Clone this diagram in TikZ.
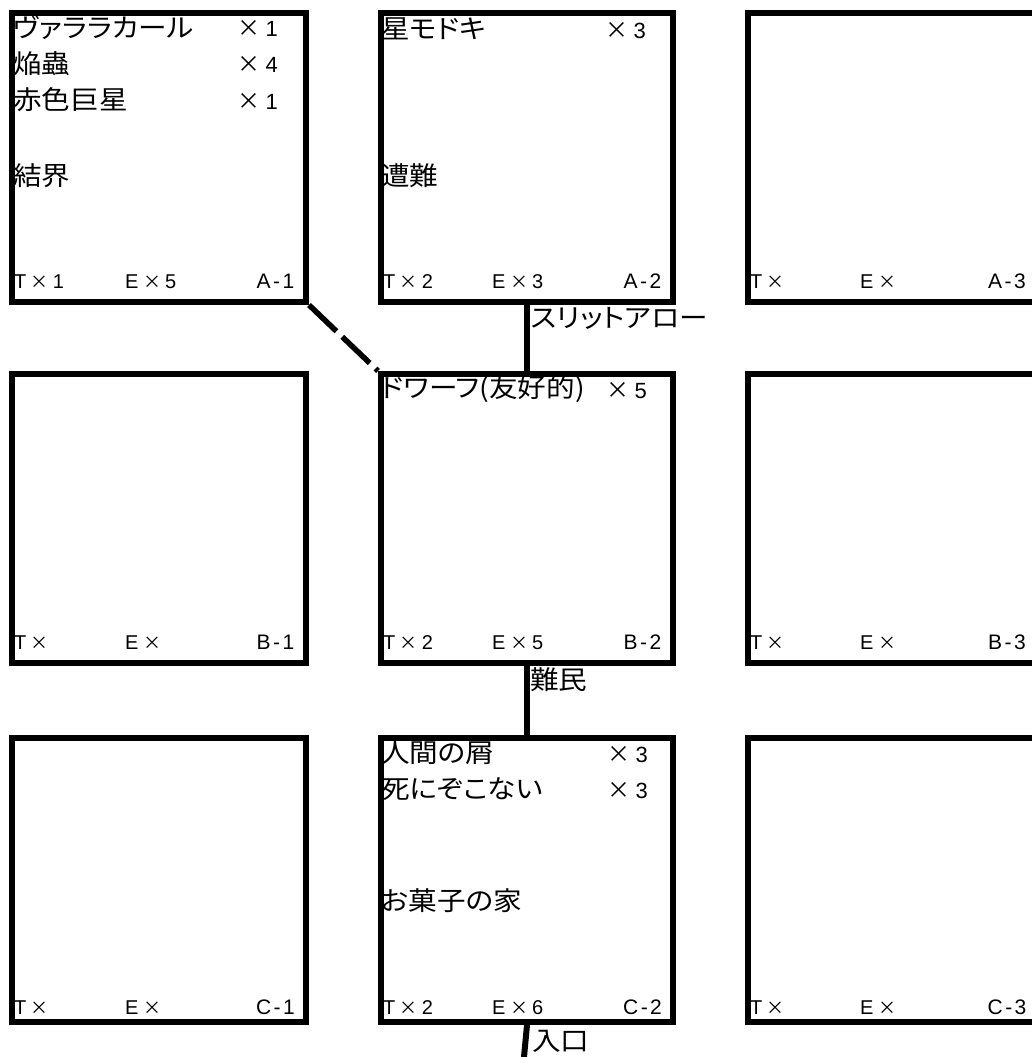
\documentclass[tikz,border=0pt]{standalone}
\usepackage{fontspec}
\newfontfamily\jp[FakeStretch=1.1,RawFeature=+palt]{Noto Sans CJK JP}
\newfontfamily\jpx{Noto Sans CJK JP}
\newfontfamily\lat{Liberation Sans}
\newcommand\mulN[1]{{\jpx\fontsize{23}{23}\selectfont ×}\hspace{5.5pt}{\lat\fontsize{22}{22}\selectfont #1}}
\newcommand\botT[1]{T\hspace{4.5pt}{\jpx\fontsize{18}{18}\selectfont ×}\hspace{4pt}#1}
\newcommand\botE[1]{E\hspace{4.5pt}{\jpx\fontsize{18}{18}\selectfont ×}\hspace{4pt}#1}
\newcommand\rc[2]{#1\kern2.5pt-\kern2.5pt#2}
\begin{document}
\begin{tikzpicture}[x=1pt,y=-1pt,
  room/.style={draw=black,line width=6pt,rectangle,anchor=north west,inner sep=0pt},
  big/.style={font=\jp\fontsize{26}{30}\selectfont,anchor=west,inner sep=0pt},
  mul/.style={anchor=base west,inner sep=0pt},
  small/.style={font=\lat\fontsize{20}{20}\selectfont,anchor=base west,inner sep=0pt},
  code/.style={font=\lat\fontsize{21}{21}\selectfont,anchor=base,inner sep=0pt},
  conn/.style={line width=6pt},
  dconn/.style={line width=5.5pt,dash pattern=on 38pt off 8pt}]
\clip (0,0) rectangle (1032,1057);
\fill[white] (0,0) rectangle (1032,1057);
% rooms
\node[room,minimum width=294pt,minimum height=289pt] (A1) at (9,10) {};
\node[room,minimum width=292pt,minimum height=289pt] (A2) at (378,10) {};
\node[room,minimum width=294pt,minimum height=289pt] (A3) at (745,10) {};
\node[room,minimum width=294pt,minimum height=289pt] (B1) at (9,371) {};
\node[room,minimum width=292pt,minimum height=289pt] (B2) at (378,371) {};
\node[room,minimum width=294pt,minimum height=289pt] (B3) at (745,371) {};
\node[room,minimum width=294pt,minimum height=284pt] (C1) at (9,735) {};
\node[room,minimum width=292pt,minimum height=284pt] (C2) at (378,735) {};
\node[room,minimum width=294pt,minimum height=284pt] (C3) at (745,735) {};
% connectors
\draw[conn] (A2.south) -- (B2.north);
\draw[conn] (B2.south) -- (C2.north);
\coordinate (entr) at (524,1057);
\draw[conn] (C2.south) -- (entr);
\draw[dconn] (A1.south east) -- (B2.north west);
% connector labels
\node[big] (lslit) at (531,318) {スリットアロー};
\node[big] (lnan) at (530,680) {難民};
\node[big] (lent) at (532,1041) {入口};
% A-1  (baselines: line centre + 8)
\node[big] (a1n1) at (13,28) {ヴァララカール};
\node[mul] (a1m1) at (237,37) {\mulN{1}};
\node[big] (a1n2) at (13,64) {焔蟲};
\node[mul] (a1m2) at (237,73) {\mulN{4}};
\node[big] (a1n3) at (13,100) {赤色巨星};
\node[mul] (a1m3) at (237,109) {\mulN{1}};
\node[big] (a1n4) at (13,176) {結界};
\node[small] (a1t) at (14,288) {\botT{1}};
\node[small] (a1e) at (125,288) {\botE{5}};
\node[code] (a1c) at (275.5,288) {\rc{A}{1}};
% A-2
\node[big] (a2n1) at (381,29) {星モドキ};
\node[mul] (a2m1) at (605,38) {\mulN{3}};
\node[big] (a2n4) at (381,176) {遭難};
\node[small] (a2t) at (383,288) {\botT{2}};
\node[small] (a2e) at (492,288) {\botE{3}};
\node[code] (a2c) at (642.5,288) {\rc{A}{2}};
% A-3
\node[small] (a3t) at (750,288) {\botT{}};
\node[small] (a3e) at (860,288) {\botE{}};
\node[code] (a3c) at (1007,288) {\rc{A}{3}};
% B-1
\node[small] (b1t) at (14,649) {\botT{}};
\node[small] (b1e) at (125,649) {\botE{}};
\node[code] (b1c) at (275.5,649) {\rc{B}{1}};
% B-2
\node[big] (b2n1) at (381,389) {ドワーフ(友好的)};
\node[mul] (b2m1) at (606,398) {\mulN{5}};
\node[small] (b2t) at (383,649) {\botT{2}};
\node[small] (b2e) at (492,649) {\botE{5}};
\node[code] (b2c) at (642.5,649) {\rc{B}{2}};
% B-3
\node[small] (b3t) at (750,649) {\botT{}};
\node[small] (b3e) at (860,649) {\botE{}};
\node[code] (b3c) at (1007,649) {\rc{B}{3}};
% C-1
\node[small] (c1t) at (14,1014) {\botT{}};
\node[small] (c1e) at (125,1014) {\botE{}};
\node[code] (c1c) at (275.5,1014) {\rc{C}{1}};
% C-2
\node[big] (c2n1) at (381,753) {人間の屑};
\node[mul] (c2m1) at (607,762) {\mulN{3}};
\node[big] (c2n2) at (381,789) {死にぞこない};
\node[mul] (c2m2) at (607,798) {\mulN{3}};
\node[big] (c2n4) at (381,901) {お菓子の家};
\node[small] (c2t) at (383,1014) {\botT{2}};
\node[small] (c2e) at (492,1014) {\botE{6}};
\node[code] (c2c) at (642.5,1014) {\rc{C}{2}};
% C-3
\node[small] (c3t) at (750,1014) {\botT{}};
\node[small] (c3e) at (860,1014) {\botE{}};
\node[code] (c3c) at (1007,1014) {\rc{C}{3}};
\end{tikzpicture}
\end{document}
